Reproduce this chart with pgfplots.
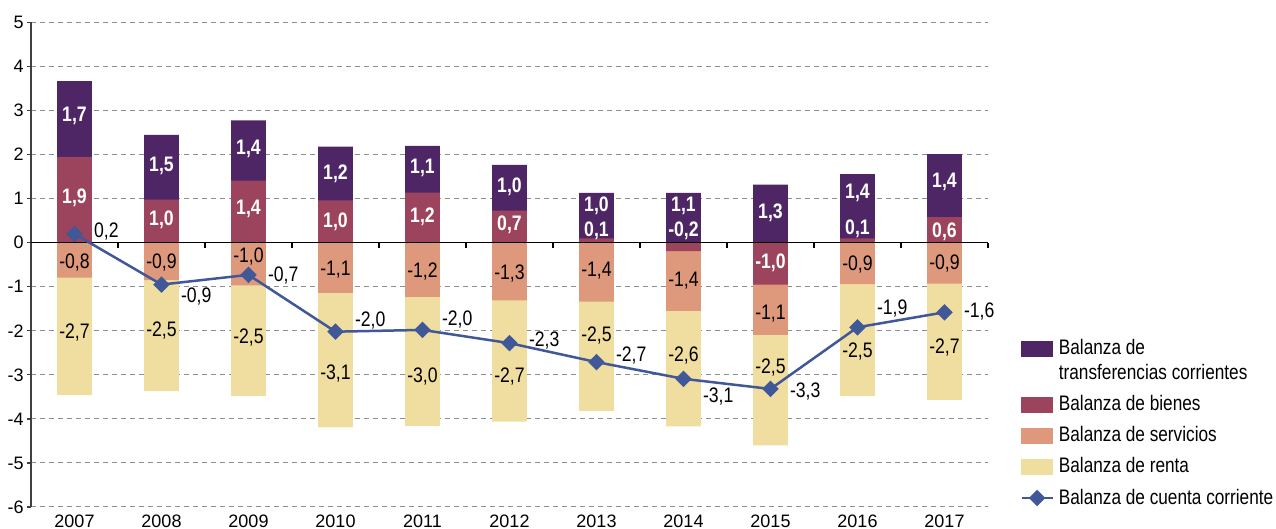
\documentclass[border=0pt]{standalone}
\usepackage{fontspec}
\setmainfont[FakeStretch=0.84]{Liberation Sans}
\newfontfamily\tickfont{Liberation Sans}
\newfontfamily\lgfam[FakeStretch=0.82]{Liberation Sans}
\usepackage{pgfplots}
\pgfplotsset{compat=1.18}
\definecolor{ctrans}{RGB}{78,38,102}
\definecolor{cbien}{RGB}{156,67,94}
\definecolor{cserv}{RGB}{222,152,124}
\definecolor{crent}{RGB}{240,222,160}
\definecolor{cline}{RGB}{64,88,152}
\newcommand\lblfont{\fontsize{10.5}{12}\selectfont}
\newcommand\lgfont{\lgfam\fontsize{10.5}{12.35}\selectfont}
\pgfplotsset{
  bars/.style={ybar, bar width=0.4, bar shift=0pt, draw=none, forget plot},
  swatch/.style={legend image code/.code={\fill[#1] (0pt,-3.75pt) rectangle (15.5pt,3.75pt);}},
  swatchup/.style={legend image code/.code={\fill[#1] (0pt,2.45pt) rectangle (15.5pt,9.95pt);}},
  lineleg/.style={legend image code/.code={\draw[mark repeat=2,mark phase=2,##1] plot coordinates {(0pt,0pt) (7.75pt,0pt) (15.5pt,0pt)};}},
  lbl/.style={draw=none, forget plot, nodes near coords, point meta=explicit symbolic,
    nodes near coords style={anchor=center, font=\lblfont, inner sep=0pt}},
}
\begin{document}
\begin{tikzpicture}
\useasboundingbox (0,0) rectangle (638pt,264.5pt);
\begin{axis}[
  at={(15.5pt,11pt)}, anchor=south west,
  scale only axis, width=478.5pt, height=242.25pt,
  xmin=-0.5, xmax=10.5, ymin=-6, ymax=5,
  axis y line*=left, axis x line*=bottom,
  x axis line style={draw=none},
  y axis line style={draw=black!75, line width=0.75pt},
  xtick={0,1,2,3,4,5,6,7,8,9,10},
  xticklabels={2007,2008,2009,2010,2011,2012,2013,2014,2015,2016,2017},
  x tick style={draw=none},
  ytick={-6,-5,-4,-3,-2,-1,0,1,2,3,4,5},
  yticklabels={-6,-5,-4,-3,-2,-1,0,1,2,3,4,5},
  y tick style={draw=black!75, line width=0.6pt},
  tick align=outside, major tick length=2pt,
  ymajorgrids, grid style={dash pattern=on 2.5pt off 2pt, black!45, line width=0.5pt},
  tick label style={font=\tickfont\fontsize{9}{10}\selectfont},
  yticklabel style={inner sep=1.5pt},
  xticklabel style={inner sep=2pt},
  clip=false,
  legend style={at={(1.0334,0.355)}, anchor=north west, draw=none, fill=none,
    font=\lgfont, row sep=2.5pt, inner sep=0pt,
    nodes={inner xsep=0.5pt},
    cells={align=left},
    /tikz/every odd column/.append style={column sep=2pt}},
  legend cell align=left,
]
% bars (cumulative heights, drawn back to front)
\addplot[bars, fill=ctrans] coordinates {(0,3.67)(1,2.45)(2,2.78)(3,2.18)(4,2.20)(5,1.77)(6,1.13)(7,1.13)(8,1.32)(9,1.56)(10,2.01)};
\addplot[bars, fill=cbien] coordinates {(0,1.95)(1,0.98)(2,1.41)(3,0.96)(4,1.14)(5,0.73)(6,0.10)(9,0.10)(10,0.58)};
\addplot[bars, fill=crent] coordinates {(0,-3.46)(1,-3.37)(2,-3.48)(3,-4.19)(4,-4.16)(5,-4.06)(6,-3.82)(7,-4.17)(8,-4.60)(9,-3.48)(10,-3.57)};
\addplot[bars, fill=cserv] coordinates {(0,-0.79)(1,-0.85)(2,-0.97)(3,-1.14)(4,-1.23)(5,-1.31)(6,-1.34)(7,-1.55)(8,-2.09)(9,-0.94)(10,-0.93)};
\addplot[bars, fill=cbien] coordinates {(7,-0.19)(8,-0.95)};
% zero line and category ticks
\addplot[black, line width=0.6pt, forget plot] coordinates {(-0.5,0)(10.5,0)};
\addplot[ycomb, black, line width=0.6pt, forget plot] coordinates {(0.5,-0.11)(1.5,-0.11)(2.5,-0.11)(3.5,-0.11)(4.5,-0.11)(5.5,-0.11)(6.5,-0.11)(7.5,-0.11)(8.5,-0.11)(9.5,-0.11)(10.5,-0.11)};
% current account line
\addplot[cline, line width=1.25pt, mark=square*, mark size=2.3pt, mark options={rotate=45, solid}, forget plot] coordinates {(0,0.2)(1,-0.95)(2,-0.73)(3,-2.02)(4,-1.98)(5,-2.28)(6,-2.71)(7,-3.09)(8,-3.32)(9,-1.92)(10,-1.58)};
% labels
\addplot[lbl, nodes near coords style={font=\bfseries\lblfont, text=white}] coordinates {(0,2.87)[1,7] (1,1.74)[1,5] (2,2.12)[1,4] (3,1.57)[1,2] (4,1.70)[1,1] (5,1.27)[1,0] (6,0.83)[1,0] (7,0.83)[1,1] (8,0.68)[1,3] (9,1.12)[1,4] (10,1.38)[1,4]};
\addplot[lbl, nodes near coords style={font=\bfseries\lblfont, text=white}] coordinates {(0,1.02)[1,9] (1,0.53)[1,0] (2,0.76)[1,4] (3,0.48)[1,0] (4,0.59)[1,2] (5,0.40)[0,7] (6,0.27)[0,1] (7,0.27)[-0,2] (8,-0.45)[-1,0] (9,0.31)[0,1] (10,0.25)[0,6]};
\addplot[lbl] coordinates {(0,-0.45)[-0,8] (1,-0.45)[-0,9] (2,-0.31)[-1,0] (3,-0.62)[-1,1] (4,-0.66)[-1,2] (5,-0.70)[-1,3] (6,-0.64)[-1,4] (7,-0.87)[-1,4] (8,-1.60)[-1,1] (9,-0.50)[-0,9] (10,-0.48)[-0,9]};
\addplot[lbl] coordinates {(0,-2.03)[-2,7] (1,-2.00)[-2,5] (2,-2.15)[-2,5] (3,-2.96)[-3,1] (4,-3.04)[-3,0] (5,-3.04)[-2,7] (6,-2.11)[-2,5] (7,-2.57)[-2,6] (8,-2.83)[-2,5] (9,-2.47)[-2,5] (10,-2.39)[-2,7]};
\addplot[lbl, nodes near coords style={anchor=west}] coordinates {(0.22,0.26)[0,2] (1.22,-1.22)[-0,9] (2.22,-0.74)[-0,7] (3.22,-1.76)[-2,0] (4.22,-1.75)[-2,0] (5.22,-2.22)[-2,3] (6.22,-2.57)[-2,7] (7.22,-3.50)[-3,1] (8.22,-3.37)[-3,3] (9.22,-1.50)[-1,9] (10.22,-1.56)[-1,6]};
% legend
\addlegendimage{swatchup=ctrans}
\addlegendentry{Balanza de\\transferencias corrientes}
\addlegendimage{swatch=cbien}
\addlegendentry{Balanza de bienes}
\addlegendimage{swatch=cserv}
\addlegendentry{Balanza de servicios}
\addlegendimage{swatch=crent}
\addlegendentry{Balanza de renta}
\addlegendimage{lineleg, cline, line width=1.25pt, mark=square*, mark size=2.3pt, mark options={rotate=45, solid}}
\addlegendentry{Balanza de cuenta corriente}
\end{axis}
\end{tikzpicture}
\end{document}
